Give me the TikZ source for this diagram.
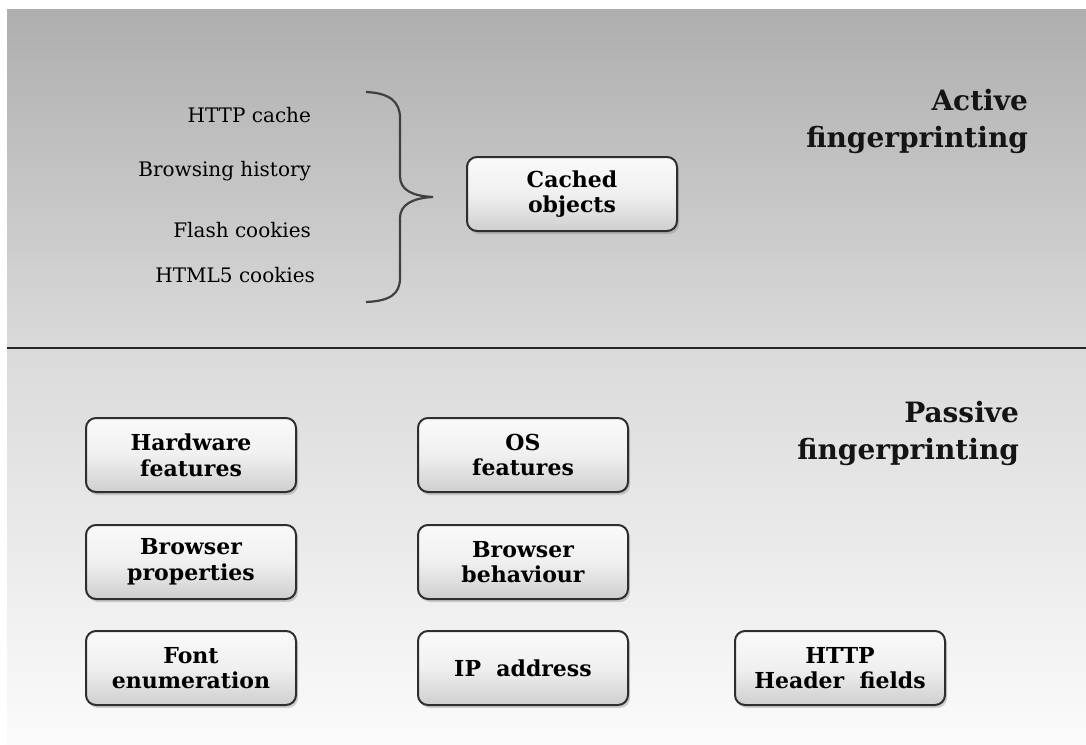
\documentclass[tikz,border=0pt]{standalone}
\usepackage{fontspec}
\setmainfont{DejaVu Serif}
\usetikzlibrary{shadows}
\definecolor{bandtop}{HTML}{AEAEAE}
\definecolor{bandmid}{HTML}{DADADA}
\definecolor{bandlow}{HTML}{FBFBFB}
\definecolor{frame}{HTML}{2E2E2E}
\begin{document}
\begin{tikzpicture}[x=0.5pt,y=-0.5pt,
  feature/.style={draw=frame, line width=1pt, rounded corners=5pt,
    top color=white!96!gray, bottom color=gray!38, middle color=white!88!gray,
    minimum width=105pt, minimum height=37pt, align=center,
    font=\bfseries\fontsize{11}{12.8}\selectfont, inner sep=2pt,
    drop shadow={shadow xshift=1pt, shadow yshift=-1.5pt, opacity=0.35}},
  item/.style={anchor=east, font=\fontsize{10}{12}\selectfont},
  heading/.style={anchor=north east, align=right, text=black!92,
    font=\bfseries\fontsize{14}{18.5}\selectfont}]
\useasboundingbox (0,0) rectangle (1086,744);
% background bands
\fill[white] (0,0) rectangle (1086,744);
\shade[top color=bandtop, bottom color=bandmid] (7,9) rectangle (1086,348);
\shade[top color=bandmid, bottom color=bandlow] (7,348) rectangle (1086,744);
\coordinate (sepL) at (7,348);
\coordinate (sepR) at (1086,348);
\draw[line width=1pt, black!85] (sepL) -- (sepR);

% active section
\node[heading] (active) at (1035,82) {Active\\fingerprinting};
\node[item] (i1) at (318,115) {HTTP cache};
\node[item] (i2) at (318,171) {Browsing history};
\node[item] (i3) at (318,230) {Flash cookies};
\node[item] (i4) at (322,275) {HTML5 cookies};
\coordinate (btop) at (366,92);
\coordinate (btip) at (433,197);
\coordinate (bbot) at (366,302);
\draw[line width=1.1pt, black!75]
  (btop) .. controls (390,93) and (400,102) .. (400,118)
  -- (400,176) .. controls (400,190) and (412,196) .. (btip)
  .. controls (412,198) and (400,205) .. (400,218)
  -- (400,278) .. controls (400,294) and (390,301) .. (bbot);
\node[feature] (cached) at (572,194) {Cached\\objects};

% passive section
\node[heading] (passive) at (1026,394) {Passive\\fingerprinting};
\node[feature] (hw) at (191,455) {Hardware\\features};
\node[feature] (os) at (523,455) {OS\\features};
\node[feature] (bp) at (191,562) {Browser\\properties};
\node[feature] (bb) at (523,562) {Browser\\behaviour};
\node[feature] (fe) at (191,668) {Font\\enumeration};
\node[feature] (ip) at (523,668) {IP\ \ address};
\node[feature] (hh) at (840,668) {HTTP\\Header\ \ fields};
\end{tikzpicture}
\end{document}
